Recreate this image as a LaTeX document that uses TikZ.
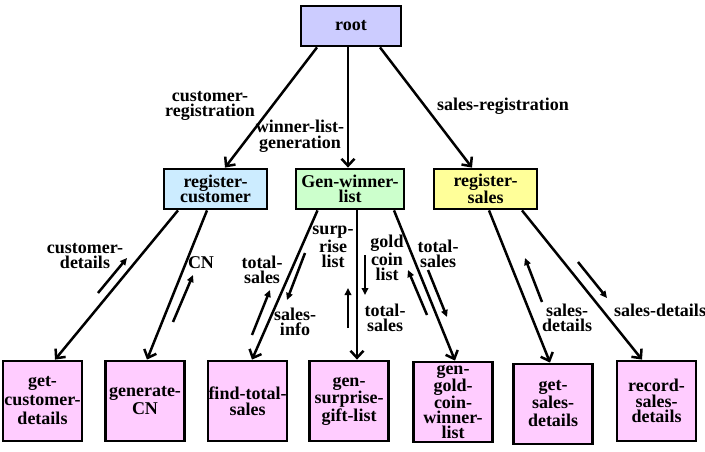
\documentclass[tikz,border=0pt]{standalone}
\usepackage{fontspec}
\setmainfont{Liberation Serif}
\usetikzlibrary{arrows.meta}
\definecolor{rootfill}{RGB}{204,204,255}
\definecolor{custfill}{RGB}{204,236,255}
\definecolor{genfill}{RGB}{204,255,204}
\definecolor{salesfill}{RGB}{255,255,153}
\definecolor{leaffill}{RGB}{255,204,255}
\tikzset{
	txt/.style={font=\fontsize{18}{15.5}\selectfont\bfseries, align=center, inner sep=0pt},
	box/.style={txt, draw, line width=2.8pt},
	topbox/.style={box, minimum height=40pt},
	leaf/.style={box, fill=leaffill, minimum width=79pt, minimum height=80pt},
	call/.style={line width=2.5pt, -{Straight Barb[length=7pt,width=13pt]}},
	flow/.style={line width=2.5pt, -{Triangle[length=7pt,width=6.5pt]}}
}

\begin{document}
\begin{tikzpicture}[x=1pt, y=-1pt]
			%%%%% START %%%%%
			\useasboundingbox (0, 0) rectangle (705, 452);
			
			\node[topbox, fill=rootfill, minimum width=100pt] (root) at (351, 26) {root};
			
			\node[topbox, fill=custfill, minimum width=103pt] (regcust) at (215.5, 189) {register-\\customer};
			\node[topbox, fill=genfill, minimum width=108pt] (genwin) at (350, 189) {Gen-winner-\\list};
			\node[topbox, fill=salesfill, minimum width=103pt] (regsales) at (485.5, 189) {register-\\sales};
			
			\node[leaf, font=\fontsize{18}{19}\selectfont\bfseries] (getcust) at (42.5, 401) {get-\\customer-\\details};
			\node[leaf, font=\fontsize{18}{18}\selectfont\bfseries] (gencn) at (145, 401) {generate-\\CN};
			\node[leaf] (findtotal) at (247.5, 401) {find-total-\\sales};
			\node[leaf] (gensurp) at (349, 401) {gen-\\surprise-\\gift-list};
			\node[leaf, font=\fontsize{18}{15}\selectfont\bfseries] (gengold) at (453, 402) {gen-\\gold-\\coin-\\winner-\\list};
			\node[leaf, font=\fontsize{18}{18}\selectfont\bfseries] (getsales) at (553, 404) {get-\\sales-\\details};
			\node[leaf] (recsales) at (656.5, 401) {record-\\sales-\\details};
			
			% calls
			\draw[call] ([xshift=-34]root.south) -- ([xshift=9.5]regcust.north);
			\draw[call] ([xshift=-3]root.south) -- ([xshift=-2]genwin.north);
			\draw[call] ([xshift=29]root.south) -- ([xshift=-13.5]regsales.north);
			
			\draw[call] ([xshift=-37.5]regcust.south) -- ([xshift=12.5]getcust.north);
			\draw[call] ([xshift=-8.5]regcust.south) -- ([xshift=2]gencn.north);
			\draw[call] ([xshift=-32.5]genwin.south) -- ([xshift=4.5]findtotal.north);
			\draw[call] ([xshift=7]genwin.south) -- ([xshift=8]gensurp.north);
			\draw[call] ([xshift=44]genwin.south) -- ([xshift=2]gengold.north);
			\draw[call] ([xshift=3.5]regsales.south) -- ([xshift=-3]getsales.north);
			\draw[call] ([xshift=36.5]regsales.south) -- ([xshift=-14.5]recsales.north);
			
			\node[txt] (lblcustreg) at (210, 106) {customer-\\registration};
			\node[txt] (lblwinner) at (300, 136) {winner-list-\\generation};
			\node[txt] (lblsalesreg) at (503, 106) {sales-registration};
			
			% data flows
			\coordinate (cdA) at (98, 293);   \coordinate (cdB) at (127, 258);
			\coordinate (cnA) at (173, 322);  \coordinate (cnB) at (193, 275);
			\coordinate (tsA) at (252, 335);  \coordinate (tsB) at (270, 290);
			\coordinate (siA) at (305, 253);  \coordinate (siB) at (287, 300);
			\coordinate (slA) at (348, 328);  \coordinate (slB) at (348, 288);
			\coordinate (glA) at (365, 255);  \coordinate (glB) at (365, 295);
			\coordinate (gtA) at (428, 270);  \coordinate (gtB) at (447, 317);
			\coordinate (guA) at (427, 315);  \coordinate (guB) at (408, 270);
			\coordinate (sdA) at (542, 302);  \coordinate (sdB) at (525, 258);
			\coordinate (rdA) at (578, 262);  \coordinate (rdB) at (607, 298);
			
			\draw[flow] (cdA) -- (cdB);
			\draw[flow] (cnA) -- (cnB);
			\draw[flow] (tsA) -- (tsB);
			\draw[flow] (siA) -- (siB);
			\draw[flow] (slA) -- (slB);
			\draw[flow] (glA) -- (glB);
			\draw[flow] (gtA) -- (gtB);
			\draw[flow] (guA) -- (guB);
			\draw[flow] (sdA) -- (sdB);
			\draw[flow] (rdA) -- (rdB);
			
			\node[txt] (lblcustdet) at (85, 256) {customer-\\details};
			\node[txt] (lblcn) at (201, 263) {CN};
			\node[txt] (lbltotal) at (262, 270) {total-\\sales};
			\node[txt] (lblinfo) at (295, 322) {sales-\\info};
			\node[txt] (lblsurp) at (333, 247) {surp-\\rise\\list};
			\node[txt] (lblgold) at (387, 258) {gold\\coin\\list};
			\node[txt] (lbltotalb) at (385, 318) {total-\\sales};
			\node[txt] (lbltotalc) at (438, 254) {total-\\sales};
			\node[txt] (lblsaledet) at (567, 318) {sales-\\details};
			\node[txt] (lblrecdet) at (660, 310) {sales-details};
			
			%%%%% END %%%%%
\end{tikzpicture}
\end{document}
